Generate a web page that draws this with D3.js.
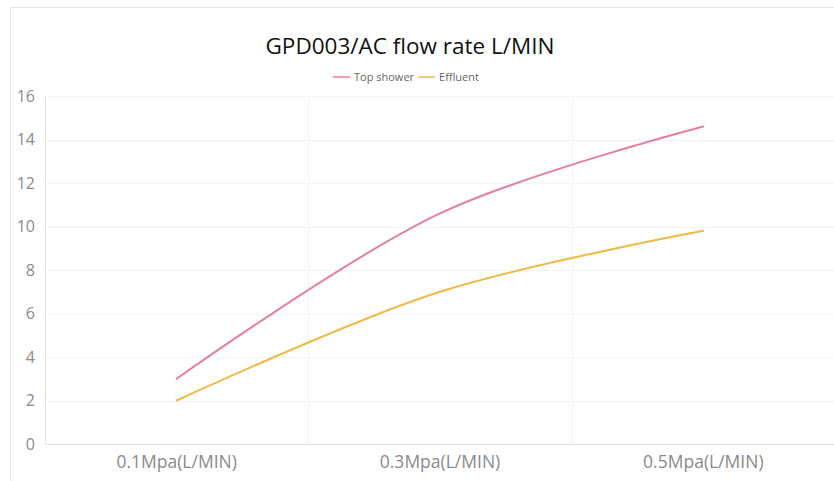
<!DOCTYPE html>
<html><head><meta charset="utf-8">
<script src="https://cdn.jsdelivr.net/npm/d3@7"></script>
<style>body{margin:0;background:#fff;} svg{display:block;}</style>
</head><body>
<script>
const categories = ["0.1Mpa(L/MIN)", "0.3Mpa(L/MIN)", "0.5Mpa(L/MIN)"];
const topShower = [3.0, 10.6, 14.6];
const effluent = [2.0, 7.0, 9.8];
const yTicks = [0, 2, 4, 6, 8, 10, 12, 14, 16];
const seriesNames = ["Top shower", "Effluent"];
const colors = ["#e57fa0", "#efb945"];

(function(){
const W = 834, H = 481;
const svg = d3.select("body").append("svg").attr("width", W).attr("height", H);
const font = "'Open Sans', 'Noto Sans', sans-serif";

// frame
svg.append("path").attr("d", `M10.5,${H} V7.5 H${W}`).attr("fill","none").attr("stroke","#e6e6e6");

const mL = 45, mR = 835, mT = 96, mB = 444;
const x = d3.scaleBand().domain(categories).range([mL, mR]);
const y = d3.scaleLinear().domain([0, 16]).range([mB, mT]);

// grid
svg.append("g").selectAll("line").data(yTicks.filter(d=>d>0)).join("line")
  .attr("x1", mL).attr("x2", mR).attr("y1", d=>Math.round(y(d))+0.5).attr("y2", d=>Math.round(y(d))+0.5)
  .attr("stroke", "#f2f2f2");
svg.append("g").selectAll("line").data(categories.slice(1)).join("line")
  .attr("x1", d=>Math.round(x(d))+0.5).attr("x2", d=>Math.round(x(d))+0.5).attr("y1", mT).attr("y2", mB)
  .attr("stroke", "#f2f2f2");

// axes
const yAxis = svg.append("g").attr("transform", `translate(${mL},0)`)
  .call(d3.axisLeft(y).tickValues(yTicks).tickSize(0).tickPadding(10));
yAxis.select(".domain").attr("stroke", "#e4e4e4");
yAxis.selectAll("text").attr("fill", "#8a8a8a").style("font-family", font).style("font-size", "16px");

const xAxis = svg.append("g").attr("transform", `translate(0,${mB})`)
  .call(d3.axisBottom(x).tickSize(0).tickPadding(12));
xAxis.select(".domain").attr("stroke", "#e4e4e4");
xAxis.selectAll("text").attr("fill", "#8a8a8a").style("font-family", font).style("font-size", "17.5px");

// lines
const line = d3.line().x((d,i)=>x(categories[i]) + x.bandwidth()/2).y(d=>y(d)).curve(d3.curveCatmullRom.alpha(0.5));
[topShower, effluent].forEach((s, k) => {
  svg.append("path").datum(s).attr("d", line).attr("fill", "none")
    .attr("stroke", colors[k]).attr("stroke-width", 2).attr("stroke-linecap", "round");
});

// title
svg.append("text").attr("x", 410).attr("y", 54).attr("text-anchor", "middle")
  .style("font-family", font).style("font-size", "22.5px").attr("fill", "#111")
  .text("GPD003/AC flow rate L/MIN");

// legend
const lg = svg.append("g").attr("transform", "translate(333,77)");
let off = 0;
seriesNames.forEach((n, k) => {
  const g = lg.append("g").attr("transform", `translate(${off},0)`);
  g.append("line").attr("x1", 0).attr("x2", 17).attr("y1", 0).attr("y2", 0).attr("stroke", colors[k]).attr("stroke-width", 1.5);
  const t = g.append("text").attr("x", 21).attr("y", 4).style("font-family", font).style("font-size", "11px")
    .attr("fill", "#666").text(n);
  off += 21 + t.node().getComputedTextLength() + 4;
});
})();
</script>
</body></html>
